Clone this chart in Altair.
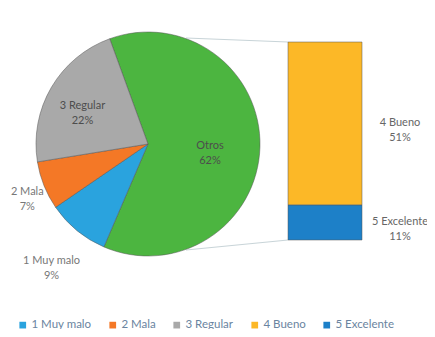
import altair as alt
import pandas as pd
import math

# ---- data ----
pie_cats = ["Otros", "1 Muy malo", "2 Mala", "3 Regular"]
pie_vals = [62, 9, 7, 22]
pie_label_r = [62, 152, 130, 76]

bar_cats = ["5 Excelente", "4 Bueno"]
bar_vals = [11, 51]

legend_cats = ["1 Muy malo", "2 Mala", "3 Regular", "4 Bueno", "5 Excelente"]
all_cats = ["Otros", "1 Muy malo", "2 Mala", "3 Regular", "4 Bueno", "5 Excelente"]
all_colors = ["#4cb540", "#2aa3de", "#f47826", "#a9a9a9", "#fcb827", "#1d80c8"]

pie_df = pd.DataFrame({"cat": pie_cats, "val": pie_vals, "ord": range(len(pie_cats)),
                       "lr": pie_label_r})
bar_df = pd.DataFrame({"cat": bar_cats, "val": bar_vals, "ord": range(len(bar_cats))})

FONT = "Lato"
cx, cy, R = 140, 136, 112
start = -20 * math.pi / 180
theta_scale = alt.Scale(domain=[0, 100], range=[start, start + 2 * math.pi])
color_scale = alt.Scale(domain=all_cats, range=all_colors)
legend = alt.Legend(values=legend_cats, orient="none", legendX=9, legendY=311,
                    direction="horizontal", title=None, symbolType="square",
                    symbolSize=45, symbolStrokeWidth=0, labelFont=FONT,
                    labelFontSize=11.5, labelColor="#6a84a0", columnPadding=15,
                    labelOffset=3)

pie_base = alt.Chart(pie_df).transform_window(
    cum="sum(val)", sort=[alt.SortField("ord")]
).transform_calculate(
    st="datum.cum - datum.val", mid="datum.cum - datum.val / 2",
    lab="datum.cat + '\\n' + datum.val + '%'",
    tc="datum.cat == 'Otros' || datum.cat == '3 Regular' ? '#4d4d4d' : '#777777'",
)

pie = pie_base.mark_arc(outerRadius=R, stroke="#555555", strokeWidth=0.5).encode(
    theta=alt.Theta("st:Q", stack=False, scale=theta_scale),
    theta2="cum:Q",
    color=alt.Color("cat:N", scale=color_scale, legend=legend),
    x=alt.value(cx), y=alt.value(cy),
)

pie_text = pie_base.mark_text(lineBreak="\n", font=FONT, fontSize=11, lineHeight=15).encode(
    theta=alt.Theta("mid:Q", stack=False, scale=theta_scale),
    radius=alt.Radius("lr:Q", scale=None),
    text="lab:N",
    color=alt.Color("tc:N", scale=None),
    x=alt.value(cx), y=alt.value(cy),
)

y_scale = alt.Scale(domain=[0, 62], range=[232, 34])

bar_base = alt.Chart(bar_df).transform_window(
    cum="sum(val)", sort=[alt.SortField("ord")]
).transform_calculate(
    st="datum.cum - datum.val", mid="datum.cum - datum.val / 2",
    lab="datum.cat + '\\n' + datum.val + '%'",
)

bar = bar_base.mark_rect(stroke="#555555", strokeWidth=0.5).encode(
    y=alt.Y("cum:Q", scale=y_scale, axis=None),
    y2="st:Q",
    x=alt.value(280), x2=alt.value(354),
    color=alt.Color("cat:N", scale=color_scale, legend=legend),
)

bar_text = bar_base.mark_text(lineBreak="\n", font=FONT, fontSize=11, lineHeight=15,
                              color="#666666").encode(
    y=alt.Y("mid:Q", scale=y_scale, axis=None),
    x=alt.value(392),
    text="lab:N",
)

lines = alt.Chart(pd.DataFrame({"k": [0, 1]})).transform_calculate(
    x1="178", y1="datum.k == 0 ? 30 : 242",
    x2="280", y2="datum.k == 0 ? 34 : 232",
).mark_rule(color="#c8d4d8", strokeWidth=1).encode(
    x=alt.X("x1:Q", scale=None), y=alt.Y("y1:Q", scale=None),
    x2="x2:Q", y2="y2:Q",
)

chart = alt.layer(lines, pie, pie_text, bar, bar_text).resolve_scale(
    y="independent"
).properties(
    width=419, height=321, padding=0, autosize=alt.AutoSizeParams(type="none"),
    background="white",
).configure_view(stroke=None)

chart.save("out.html", embed_options={"renderer": "svg", "actions": False})
